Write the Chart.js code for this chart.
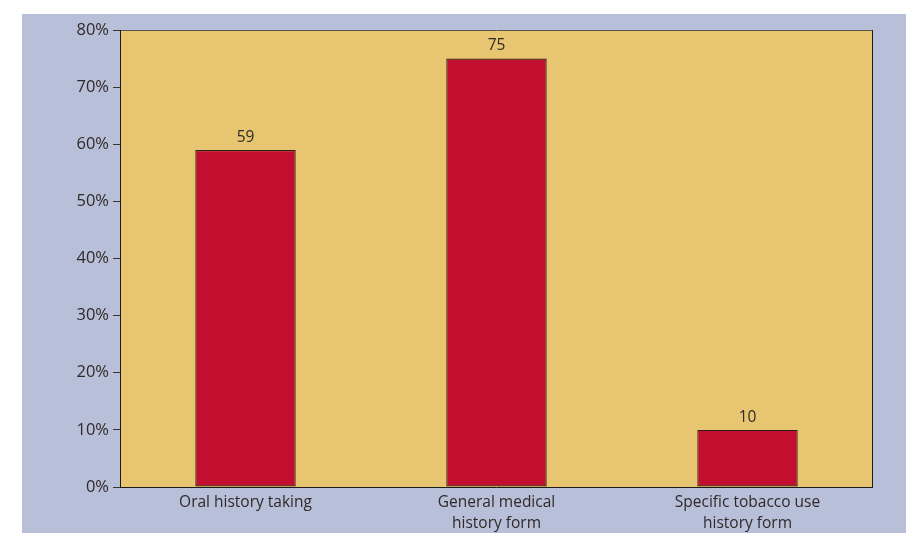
<!DOCTYPE html>
<html>
<head>
<meta charset="utf-8">
<script src="https://cdn.jsdelivr.net/npm/chart.js@4.4.1/dist/chart.umd.min.js"></script>
<style>
  html, body { margin: 0; padding: 0; background: #ffffff; overflow: hidden; }
  #wrap { width: 906px; height: 533px; position: relative; }
</style>
</head>
<body>
<div id="wrap"><canvas id="barChart"></canvas></div>
<script>
// Categories and values (percent)
const categories = [
  "Oral history taking",
  ["General medical", "history form"],
  ["Specific tobacco use", "history form"],
];
const percentValues = [59, 75, 10];
const yTicks = [0, 10, 20, 30, 40, 50, 60, 70, 80];

const textColor = "#2f2a28";
const fontFamily = "'Open Sans', 'Noto Sans', sans-serif";

// Blue page panel + yellow plot area + frame
const backdropPlugin = {
  id: "backdrop",
  beforeDraw(chart) {
    const { ctx, chartArea } = chart;
    ctx.save();
    ctx.fillStyle = "#b8bfd9";
    ctx.fillRect(22, 14, chart.width - 22, chart.height - 14);
    ctx.fillStyle = "#e8c671";
    ctx.fillRect(chartArea.left, chartArea.top, chartArea.right - chartArea.left, chartArea.bottom - chartArea.top);
    ctx.restore();
  },
  afterDatasetsDraw(chart) {
    const { ctx, chartArea } = chart;
    ctx.save();
    ctx.lineWidth = 1;
    ctx.strokeStyle = "#5a5550";
    ctx.beginPath();
    ctx.moveTo(chartArea.left, chartArea.top + 0.5);
    ctx.lineTo(chartArea.right, chartArea.top + 0.5);
    ctx.stroke();
    ctx.strokeStyle = "#1e1a18";
    ctx.beginPath();
    ctx.moveTo(chartArea.right - 0.5, chartArea.top);
    ctx.lineTo(chartArea.right - 0.5, chartArea.bottom);
    ctx.moveTo(chartArea.left + 0.5, chartArea.top);
    ctx.lineTo(chartArea.left + 0.5, chartArea.bottom);
    ctx.moveTo(chartArea.left, chartArea.bottom + 0.5);
    ctx.lineTo(chartArea.right, chartArea.bottom + 0.5);
    ctx.stroke();
    ctx.restore();
  },
};

// Value labels above the bars
const valueLabelPlugin = {
  id: "valueLabels",
  afterDatasetsDraw(chart) {
    const { ctx } = chart;
    const meta = chart.getDatasetMeta(0);
    ctx.save();
    ctx.fillStyle = textColor;
    ctx.font = "15.5px " + fontFamily;
    ctx.textAlign = "center";
    ctx.textBaseline = "bottom";
    meta.data.forEach((bar, i) => {
      ctx.fillText(String(percentValues[i]), bar.x, bar.y - 5);
    });
    ctx.restore();
  },
};

const barChart = new Chart(document.getElementById("barChart"), {
  type: "bar",
  data: {
    labels: categories,
    datasets: [
      {
        data: percentValues,
        backgroundColor: "#c20f2f",
        borderColor: "#2a1c16",
        borderWidth: 1.2,
        borderSkipped: false,
        barPercentage: 0.4,
        categoryPercentage: 1,
      },
    ],
  },
  options: {
    responsive: true,
    maintainAspectRatio: false,
    animation: false,
    layout: { padding: { left: 22, top: 30, right: 33, bottom: 0 } },
    plugins: { legend: { display: false }, tooltip: { enabled: false } },
    scales: {
      x: {
        grid: { display: false },
        border: { display: false },
        ticks: {
          color: textColor,
          font: { family: fontFamily, size: 15.5, lineHeight: 1.35 },
          padding: -3,
          maxRotation: 0,
        },
        afterFit(scale) { scale.height = 46; },
      },
      y: {
        min: 0,
        max: 80,
        afterBuildTicks(scale) {
          scale.ticks = yTicks.map((v) => ({ value: v }));
        },
        grid: {
          drawOnChartArea: false,
          drawTicks: true,
          tickLength: 7,
          tickColor: "#3a3431",
        },
        border: { display: false },
        ticks: {
          color: textColor,
          font: { family: fontFamily, size: 16.5 },
          padding: 4,
          callback: (v) => v + "%",
        },
        afterFit(scale) { scale.width = 98; },
      },
    },
  },
  plugins: [backdropPlugin, valueLabelPlugin],
});
</script>
</body>
</html>
